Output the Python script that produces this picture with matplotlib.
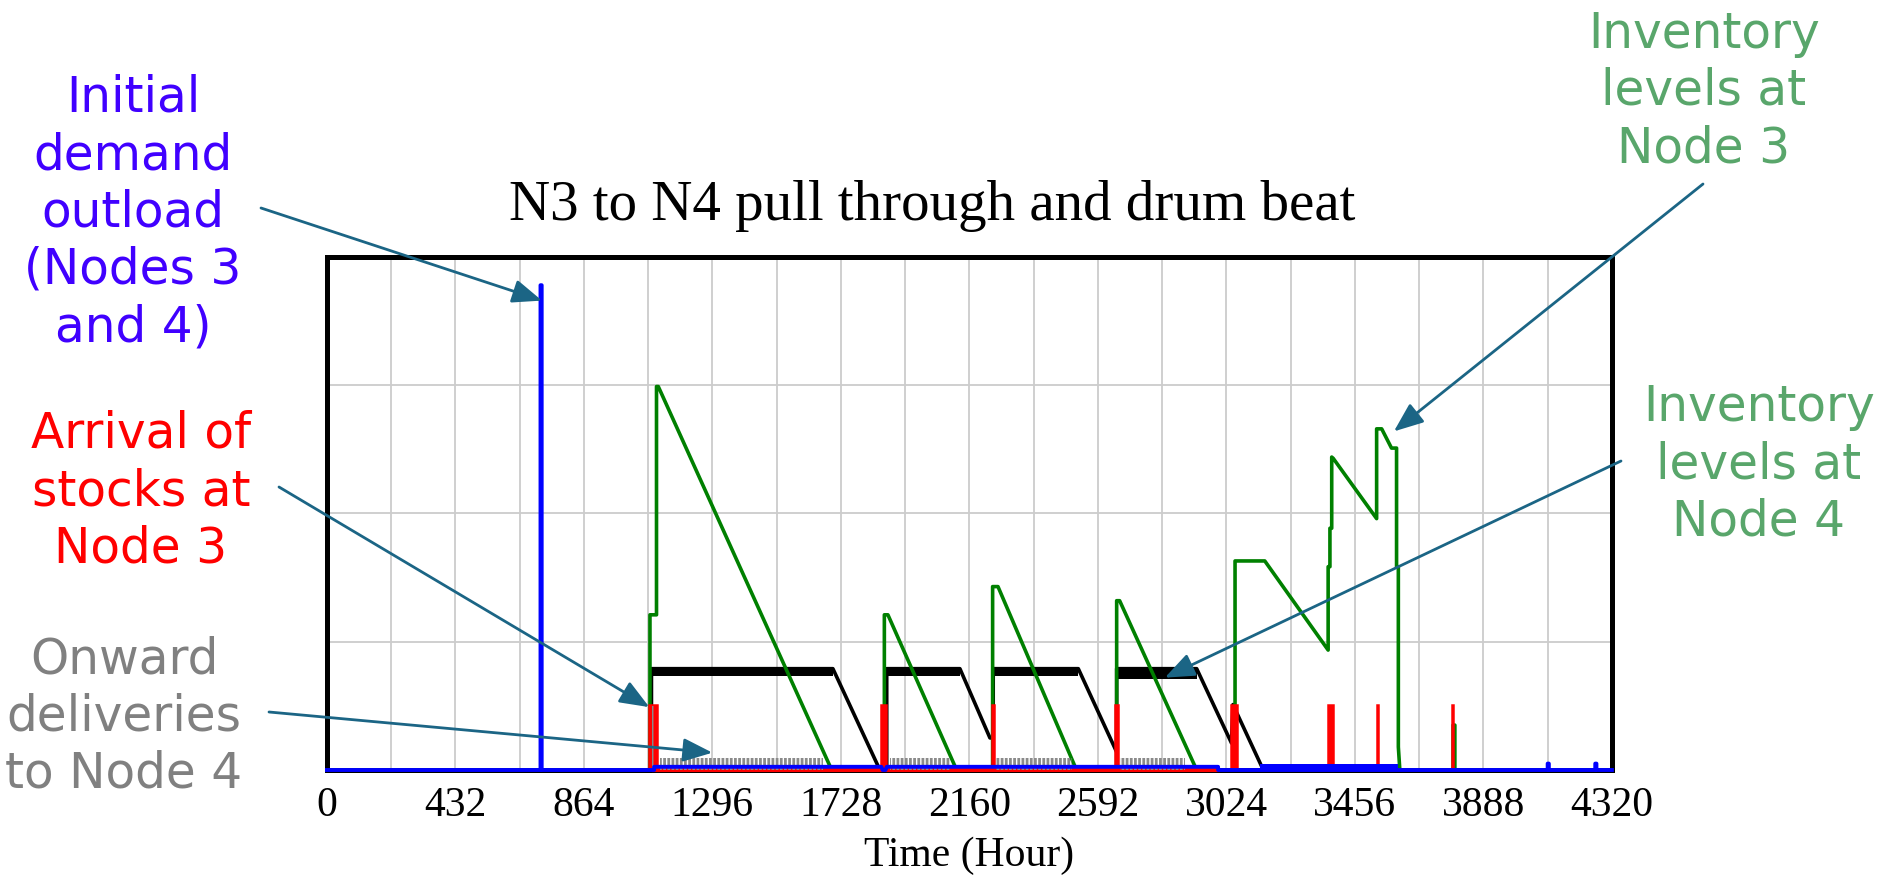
import numpy as np
import matplotlib.pyplot as plt
import matplotlib.ticker as ticker

# x axis (hours)
hour_ticks = [0, 432, 864, 1296, 1728, 2160, 2592, 3024, 3456, 3888, 4320]

# inventory levels at node 3 (green)
green_h = [0, 1086, 1086, 1108, 1108, 1114, 1697, 1874, 1874, 1886, 2117,
           2238, 2238, 2256, 2520, 2655, 2655, 2665, 2924, 3053, 3053, 3153,
           3366, 3366, 3372, 3372, 3378, 3378, 3383, 3529, 3529, 3546, 3579,
           3596, 3596, 3602, 3602, 3607, 3786, 3786, 3792, 3792, 4320]
green_v = [0, 0, 1.21, 1.21, 2.99, 2.99, 0, 0, 1.21, 1.21, 0,
           0, 1.43, 1.43, 0, 0, 1.32, 1.32, 0, 0, 1.63, 1.63,
           0.935, 1.585, 1.585, 1.885, 1.885, 2.44, 2.43, 1.96, 2.66, 2.66, 2.51,
           2.51, 1.585, 1.585, 0.18, 0, 0, 0.35, 0.35, 0, 0]

# inventory levels at node 4 (black)
black_h = [0, 1091, 1091, 1701, 1859, 1882, 1882, 2128, 2229, 2240, 2240,
           2526, 2655, 2655, 2924, 3041, 3046, 3148, 4320]
black_v = [0, 0, 0.79, 0.79, 0, 0, 0.79, 0.79, 0.25, 0.25, 0.79,
           0.79, 0.14, 0.79, 0.79, 0.21, 0.51, 0, 0]
band_start = [1091, 1882, 2240, 2655]
band_end = [1701, 2128, 2526, 2924]
band_top = [0.80, 0.80, 0.80, 0.795]
band_bottom = [0.73, 0.73, 0.73, 0.71]

# arrival of stocks at node 3 (red)
red_start = [1083, 1864, 2236, 2651, 3041, 3366, 3529, 3782]
red_end = [1110, 1881, 2242, 2659, 3058, 3382, 3533, 3786]
red_height = [0.51, 0.51, 0.51, 0.51, 0.51, 0.51, 0.51, 0.51]
red_base_h = [1100, 2996]
red_base_v = [0, 0]

# onward deliveries to node 4 (gray)
gray_start = [1092, 1120, 1893, 2250, 2666]
gray_end = [1100, 1667, 2094, 2504, 2884]
gray_height = [0.50, 0.09, 0.09, 0.09, 0.09]

# initial demand outload (blue)
blue_h = [0, 718, 718, 722, 722, 1100, 1100, 1864, 1868, 1878, 1882, 2996,
          2996, 4104, 4104, 4108, 4108, 4264, 4264, 4268, 4268, 4320]
blue_v = [0, 0, 3.78, 3.78, 0, 0, 0.025, 0.025, 0, 0, 0.025, 0.025,
          0, 0, 0.05, 0.05, 0, 0, 0.05, 0.05, 0, 0]
blue_noise_h = [3137, 3600]
blue_noise_top = [0.045, 0.045]

plt.rcParams["hatch.linewidth"] = 2.0

fig = plt.figure(figsize=(18.8, 8.75), dpi=100)
ax = fig.add_axes([0.1739, 0.12, 0.6835, 0.5863])

ax.fill_between(blue_noise_h, 0, blue_noise_top, color="blue", lw=0, zorder=6)
ax.plot(black_h, black_v, color="black", lw=2.6, zorder=2)
for s, e, lo, hi in zip(band_start, band_end, band_bottom, band_top):
    ax.fill_between([s, e], lo, hi, color="black", lw=0, zorder=2)
ax.plot(green_h, green_v, color="#008000", lw=2.6, zorder=3)
ax.plot(red_base_h, red_base_v, color="red", lw=3, zorder=4, clip_on=False)
ax.bar(red_start, red_height, width=np.array(red_end) - np.array(red_start),
       align="edge", color="red", edgecolor="red", lw=1.8, zorder=4)
for s, e, h in zip(gray_start, gray_end, gray_height):
    ax.fill_between([s, e], 0, h, facecolor="none", edgecolor="#8a8a8a",
                    hatch="||||", lw=0, zorder=5)
ax.plot(blue_h, blue_v, color="blue", lw=2.8, zorder=6, clip_on=False)

ax.set_xlim(0, 4320)
ax.set_ylim(0, 4)
ax.set_xticks(hour_ticks)
ax.xaxis.set_minor_locator(ticker.MultipleLocator(216))
ax.set_yticks([1, 2, 3])
ax.set_yticklabels([])
ax.grid(True, which="both", color="#cccccc", lw=1.3)
ax.set_axisbelow(True)
ax.tick_params(which="both", length=0, pad=12)
for label in ax.get_xticklabels():
    label.set_fontfamily("Liberation Serif")
    label.set_fontsize(30)
for sp in ax.spines.values():
    sp.set_linewidth(3.6)
    sp.set_zorder(1)
ax.set_xlabel("Time (Hour)", fontfamily="Liberation Serif", fontsize=30,
              labelpad=8)

fig.text(932 / 1880, 1 - 220 / 875, "N3 to N4 pull through and drum beat",
         ha="center", va="baseline", fontfamily="Liberation Serif",
         fontsize=41)


def note(lines, cx, first, color):
    for i, line in enumerate(lines):
        fig.text(cx / 1880, 1 - (first + 57.3 * i) / 875, line, ha="center",
                 va="baseline", color=color, fontsize=35,
                 fontfamily="DejaVu Sans")


note(["Initial", "demand", "outload", "(Nodes 3", "and 4)"], 133, 112, "#4000ff")
note(["Arrival of", "stocks at", "Node 3"], 141, 448, "red")
note(["Onward", "deliveries", "to Node 4"], 124, 673, "#808080")
note(["Inventory", "levels at", "Node 3"], 1704, 47.5, "#59a66b")
note(["Inventory", "levels at", "Node 4"], 1759, 421, "#59a66b")

arrow = dict(arrowstyle="-|>,head_length=0.5,head_width=0.2",
             color="#1b6585", lw=2, mutation_scale=36, shrinkA=0, shrinkB=0)
for tip, start in [((723, 3.66), (261, 208)), ((1084, 0.49), (279, 487)),
                   ((1296, 0.135), (269, 712)), ((3587, 2.64), (1703, 184)),
                   ((2817, 0.72), (1621, 461))]:
    ax.annotate("", xy=tip, xycoords="data",
                xytext=(start[0], 875 - start[1]), textcoords="figure pixels",
                arrowprops=arrow, annotation_clip=False, zorder=10)

plt.savefig("out.png", dpi=100)
